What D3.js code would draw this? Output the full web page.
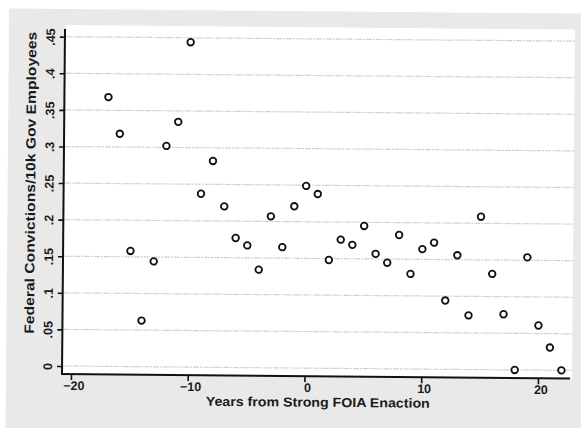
<!DOCTYPE html>
<html>
<head>
<meta charset="utf-8">
<script src="https://cdn.jsdelivr.net/npm/d3@7"></script>
<style>
	body { margin: 0; background: #fff; }
	text { font-family: "Liberation Sans", Arial, sans-serif; font-weight: bold; fill: #1a1a1a; }
</style>
</head>
<body>
<div id="chart"></div>
<script>
// years relative to strong FOIA enaction, and convictions per 10k gov employees
var years = [-17, -16, -15, -14, -13, -12, -11, -10, -9, -8, -7, -6, -5, -4, -3, -2, -1,
	0, 1, 2, 3, 4, 5, 6, 7, 8, 9, 10, 11, 12, 13, 14, 15, 16, 17, 18, 19, 20, 21, 22]
var convictions = [0.368, 0.318, 0.158, 0.063, 0.144, 0.302, 0.335, 0.444, 0.237, 0.282,
	0.220, 0.177, 0.167, 0.134, 0.207, 0.165, 0.221, 0.249, 0.238, 0.148, 0.176, 0.169,
	0.195, 0.157, 0.145, 0.183, 0.130, 0.164, 0.173, 0.094, 0.156, 0.074, 0.209, 0.131,
	0.076, 0.000, 0.154, 0.061, 0.031, 0.000]

var xTicks = [-20, -10, 0, 10, 20]
var yTicks = [0, 0.05, 0.1, 0.15, 0.2, 0.25, 0.3, 0.35, 0.4, 0.45]
var yTickLabels = ["0", ".05", ".1", ".15", ".2", ".25", ".3", ".35", ".4", ".45"]

var xTitle = "Years from Strong FOIA Enaction"
var yTitle = "Federal Convictions/10k Gov Employees"

var W = 581, H = 428
var plot = {left: 62, right: 572, top: 25, bottom: 374}

var svg = d3.select("#chart").append("svg")
	.attr("width", W)
	.attr("height", H)

// the scan is a bit tilted, so the whole figure gets turned a little
var g = svg.append("g")
	.attr("transform", "rotate(0.5," + plot.left + "," + plot.bottom + ")")

g.append("rect")
	.attr("x", 6).attr("y", 9)
	.attr("width", 600).attr("height", 440)
	.attr("fill", "#e9e9e9")

g.append("rect")
	.attr("x", plot.left).attr("y", plot.top)
	.attr("width", plot.right - plot.left).attr("height", plot.bottom - plot.top)
	.attr("fill", "#fff")

var x = d3.scaleLinear().domain([-20, 20]).range([71, 538])
var y = d3.scaleLinear().domain([0, 0.45]).range([366, 36.7])

// grid
g.append("g").selectAll("line")
	.data(yTicks)
	.enter().append("line")
	.attr("x1", plot.left + 1)
	.attr("x2", plot.right)
	.attr("y1", function(d) { return y(d) })
	.attr("y2", function(d) { return y(d) })
	.style("stroke", "#d2d2d2")
	.style("stroke-width", 1.2)
	.style("stroke-dasharray", "6,1,2,1")

// x axis
var xAxis = g.append("g")
	.attr("transform", "translate(0," + plot.bottom + ")")
	.call(d3.axisBottom(x).tickValues(xTicks).tickSize(6).tickPadding(1).tickFormat(d3.format("d")))
xAxis.select(".domain").remove()
xAxis.selectAll("line").style("stroke", "#111").style("stroke-width", 1.6)
xAxis.selectAll("text")
	.style("font-size", "12.5px")
	.attr("dx", "0.2em")

g.append("line")
	.attr("x1", plot.left - 1).attr("x2", plot.right - 2)
	.attr("y1", plot.bottom).attr("y2", plot.bottom)
	.style("stroke", "#111")
	.style("stroke-width", 2)

// y axis
var yAxis = g.append("g")
	.attr("transform", "translate(" + plot.left + ",0)")
	.call(d3.axisLeft(y).tickValues(yTicks).tickSize(5).tickFormat(function(d, i) { return yTickLabels[i] }))
yAxis.select(".domain").remove()
yAxis.selectAll("line").style("stroke", "#111").style("stroke-width", 1.6)
yAxis.selectAll("text")
	.attr("x", null).attr("dy", null)
	.attr("transform", "translate(-10,0) rotate(-90)")
	.attr("text-anchor", "middle")
	.style("font-size", "12.5px")

g.append("line")
	.attr("x1", plot.left).attr("x2", plot.left)
	.attr("y1", plot.top + 4).attr("y2", plot.bottom + 1)
	.style("stroke", "#111")
	.style("stroke-width", 2)

// titles
g.append("text")
	.attr("x", 318)
	.attr("y", 404.5)
	.attr("text-anchor", "middle")
	.attr("textLength", 224)
	.attr("lengthAdjust", "spacingAndGlyphs")
	.style("font-size", "13px")
	.text(xTitle)

g.append("text")
	.attr("transform", "translate(33.5,183) rotate(-90)")
	.attr("text-anchor", "middle")
	.attr("textLength", 302)
	.attr("lengthAdjust", "spacingAndGlyphs")
	.style("font-size", "13.5px")
	.text(yTitle)

// points
g.append("g").selectAll("circle")
	.data(years)
	.enter().append("circle")
	.attr("cx", function(d) { return x(d) })
	.attr("cy", function(d, i) { return y(convictions[i]) })
	.attr("r", 3.3)
	.style("fill", "#fff")
	.style("stroke", "#111")
	.style("stroke-width", 1.8)
</script>
</body>
</html>
